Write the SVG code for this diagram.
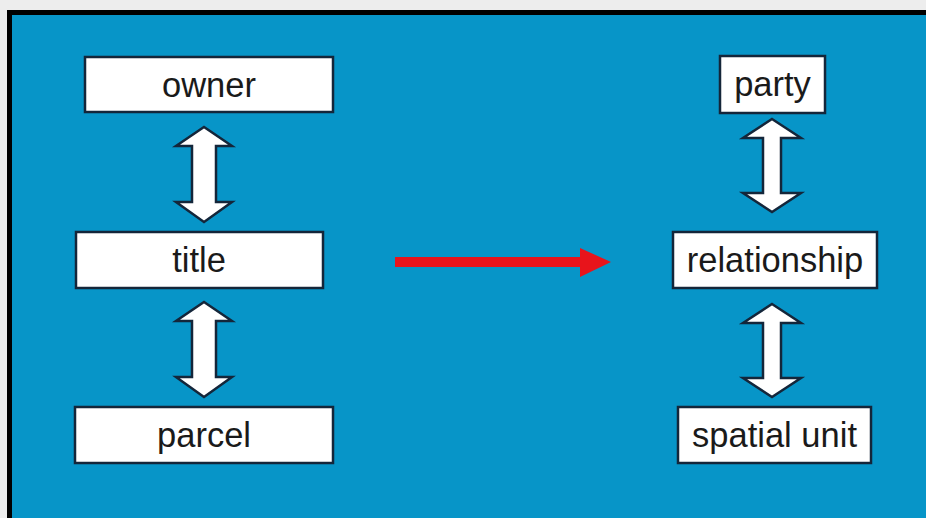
<svg xmlns="http://www.w3.org/2000/svg" width="926" height="518" viewBox="0 0 926 518">
<style>
.box{fill:#fff;stroke:#14263a;stroke-width:2.5}
.lbl{font-family:"Liberation Sans",Arial,sans-serif;font-size:34.5px;fill:#1a1a1a;text-anchor:middle}
.dbl{fill:#fff;stroke:#14263a;stroke-width:2.5;stroke-linejoin:miter}
</style>
<defs>
<polygon id="dblL" points="0,0 28,19 12,19 12,75 28,75 0,95 -28,75 -12,75 -12,19 -28,19"/>
<polygon id="dblR" points="0,0 29,19 9,19 9,74 29,74 0,93 -29,74 -9,74 -9,19 -29,19"/>
</defs>
<rect x="0" y="0" width="926" height="518" fill="#ededed"/>
<rect x="7" y="10" width="919" height="508" fill="#000"/>
<rect x="12" y="15" width="914" height="503" fill="#0795c8"/>
<g id="connectors">
<use href="#dblL" class="dbl" x="204" y="127"/>
<use href="#dblL" class="dbl" x="204" y="302"/>
<use href="#dblR" class="dbl" x="772" y="119"/>
<use href="#dblR" class="dbl" x="772" y="304"/>
<g id="red-arrow" fill="#e8141b">
<rect x="395" y="257" width="188" height="10"/>
<polygon points="580,248 611,262 580,277"/>
</g>
</g>
<g id="owner"><rect class="box" x="85" y="57" width="248" height="55"/><text class="lbl" x="209" y="97">owner</text></g>
<g id="title"><rect class="box" x="76" y="232" width="247" height="56"/><text class="lbl" x="199" y="272">title</text></g>
<g id="parcel"><rect class="box" x="75" y="407" width="258" height="56"/><text class="lbl" x="204" y="447">parcel</text></g>
<g id="party"><rect class="box" x="720" y="56" width="105" height="57"/><text class="lbl" x="772.5" y="96">party</text></g>
<g id="relationship"><rect class="box" x="673" y="232" width="204" height="56"/><text class="lbl" x="775" y="272">relationship</text></g>
<g id="spatial-unit"><rect class="box" x="678" y="407" width="193" height="56"/><text class="lbl" x="774.5" y="447">spatial unit</text></g>
</svg>
